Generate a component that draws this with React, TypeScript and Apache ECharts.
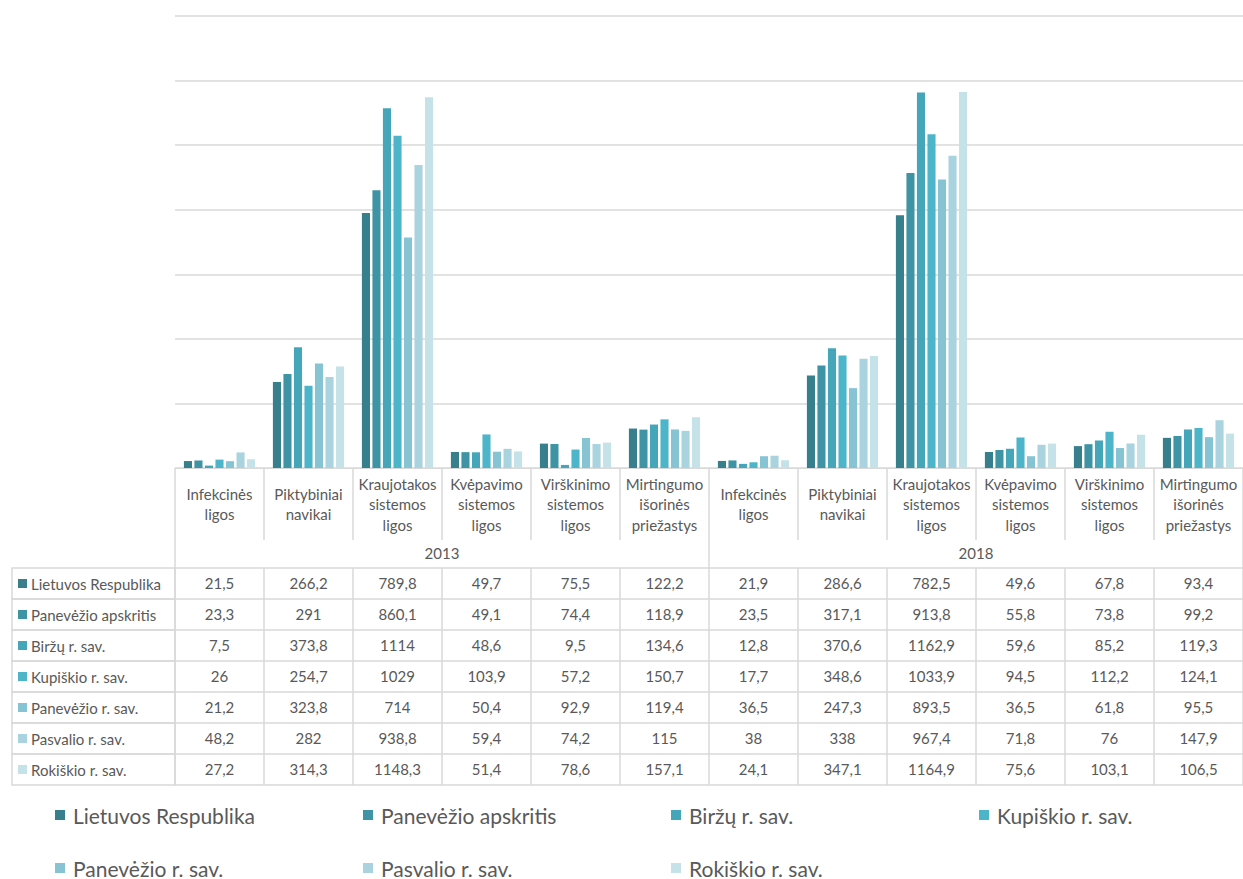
import React, { useEffect, useRef } from "react";
import * as echarts from "echarts";

const causeNames = [
  "Infekcinės\nligos",
  "Piktybiniai\nnavikai",
  "Kraujotakos\nsistemos\nligos",
  "Kvėpavimo\nsistemos\nligos",
  "Virškinimo\nsistemos\nligos",
  "Mirtingumo\nišorinės\npriežastys",
];
const years = ["2013", "2018"];
const categories = [...causeNames, ...causeNames];

const seriesNames = [
  "Lietuvos Respublika",
  "Panevėžio apskritis",
  "Biržų r. sav.",
  "Kupiškio r. sav.",
  "Panevėžio r. sav.",
  "Pasvalio r. sav.",
  "Rokiškio r. sav.",
];
const colors = ["#377f8c", "#3e94a5", "#45a6b9", "#4db5ca", "#86c3d3", "#a9d3de", "#c5e2e9"];

// 2013 (6 causes) followed by 2018 (6 causes)
const lietuvos = [21.5, 266.2, 789.8, 49.7, 75.5, 122.2, 21.9, 286.6, 782.5, 49.6, 67.8, 93.4];
const panevezioApskritis = [23.3, 291, 860.1, 49.1, 74.4, 118.9, 23.5, 317.1, 913.8, 55.8, 73.8, 99.2];
const birzu = [7.5, 373.8, 1114, 48.6, 9.5, 134.6, 12.8, 370.6, 1162.9, 59.6, 85.2, 119.3];
const kupiskio = [26, 254.7, 1029, 103.9, 57.2, 150.7, 17.7, 348.6, 1033.9, 94.5, 112.2, 124.1];
const panevezioRSav = [21.2, 323.8, 714, 50.4, 92.9, 119.4, 36.5, 247.3, 893.5, 36.5, 61.8, 95.5];
const pasvalio = [48.2, 282, 938.8, 59.4, 74.2, 115, 38, 338, 967.4, 71.8, 76, 147.9];
const rokiskio = [27.2, 314.3, 1148.3, 51.4, 78.6, 157.1, 24.1, 347.1, 1164.9, 75.6, 103.1, 106.5];

const seriesData = [lietuvos, panevezioApskritis, birzu, kupiskio, panevezioRSav, pasvalio, rokiskio];

const yMax = 1400;
const yInterval = 200;

const FONT = "Lato, 'Noto Sans', sans-serif";
const TEXT = "#595959";
const LINE = "#d9d9d9";

const fmt = (v: number) => String(v).replace(".", ",");

export default function App() {
  const ref = useRef<HTMLDivElement>(null);

  useEffect(() => {
    if (!ref.current) return;
    const chart = echarts.init(ref.current, undefined, { renderer: "svg" });

    const gridLeft = 175;
    const gridTop = 16;
    const gridHeight = 452;
    const baseY = gridTop + gridHeight; // 468
    const catRowH = 72;
    const yearRowH = 28;
    const rowH = 31;
    const tableTop = baseY + catRowH + yearRowH; // 568

    const xAxes: any[] = [
      {
        type: "category",
        data: categories,
        gridIndex: 0,
        position: "bottom",
        offset: 0,
        axisLine: { show: true, lineStyle: { color: LINE, width: 1 } },
        axisTick: { show: true, length: catRowH, interval: 0, lineStyle: { color: LINE, width: 1.5 } },
        axisLabel: {
          interval: 0,
          margin: 36,
          verticalAlign: "middle",
          color: TEXT,
          fontFamily: FONT,
          fontSize: 15,
          lineHeight: 20.5,
        },
      },
      {
        type: "category",
        data: years,
        gridIndex: 0,
        position: "bottom",
        offset: catRowH,
        axisLine: { show: false },
        axisTick: { show: true, length: yearRowH, interval: 0, lineStyle: { color: LINE, width: 1.5 } },
        axisLabel: {
          interval: 0,
          margin: 5,
          color: TEXT,
          fontFamily: FONT,
          fontSize: 15,
        },
      },
    ];

    seriesData.forEach((vals, i) => {
      xAxes.push({
        type: "category",
        data: categories,
        gridIndex: 0,
        position: "bottom",
        offset: catRowH + yearRowH + rowH * i,
        axisLine: { show: true, lineStyle: { color: LINE, width: 1.5 } },
        axisTick: { show: true, length: rowH, interval: 0, lineStyle: { color: LINE, width: 1.5 } },
        axisLabel: {
          interval: 0,
          margin: 7,
          color: TEXT,
          fontFamily: FONT,
          fontSize: 15,
          formatter: (_v: string, idx: number) => fmt(vals[idx]),
        },
      });
    });
    // bottom border of table
    xAxes.push({
      type: "category",
      data: categories,
      gridIndex: 0,
      position: "bottom",
      offset: catRowH + yearRowH + rowH * seriesData.length,
      axisLine: { show: true, lineStyle: { color: LINE, width: 1.5 } },
      axisTick: { show: false },
      axisLabel: { show: false },
    });

    const graphics: any[] = [];
    seriesNames.forEach((name, i) => {
      const y = tableTop + rowH * i;
      graphics.push({
        type: "rect",
        shape: { x: 12, y, width: gridLeft - 12, height: rowH },
        style: { fill: "none", stroke: LINE, lineWidth: 1.5 },
        silent: true,
      });
      graphics.push({
        type: "rect",
        shape: { x: 18, y: y + rowH / 2 - 4.5, width: 9, height: 9 },
        style: { fill: colors[i] },
        silent: true,
      });
      graphics.push({
        type: "text",
        x: 31,
        y: y + rowH / 2,
        style: {
          text: name,
          fill: TEXT,
          font: `15px ${FONT}`,
          verticalAlign: "middle",
          align: "left",
        },
        silent: true,
      });
    });

    const legendBase = {
      left: 55,
      width: 1185,
      padding: 0,
      itemWidth: 10,
      itemHeight: 10,
      itemGap: 50,
      icon: "rect",
      selectedMode: false,
      textStyle: {
        color: TEXT,
        fontFamily: FONT,
        fontSize: 21,
        width: 240,
        lineHeight: 22,
        padding: [0, 0, 0, 3],
        overflow: "truncate",
      },
    };

    chart.setOption({
      animation: false,
      backgroundColor: "#ffffff",
      grid: { left: gridLeft, right: 0, top: gridTop, height: gridHeight, containLabel: false },
      xAxis: xAxes,
      yAxis: {
        type: "value",
        min: 0,
        max: yMax,
        interval: yInterval,
        axisLabel: { show: false },
        axisLine: { show: false },
        axisTick: { show: false },
        splitLine: { show: true, lineStyle: { color: LINE, width: 1.5 } },
      },
      legend: [
        { ...legendBase, data: seriesNames.slice(0, 4), top: 804 },
        { ...legendBase, data: seriesNames.slice(4), top: 857 },
      ],
      graphic: graphics,
      series: seriesData.map((vals, i) => ({
        name: seriesNames[i],
        type: "bar",
        xAxisIndex: 0,
        data: vals,
        barGap: "30%",
        barCategoryGap: "20%",
        itemStyle: { color: colors[i] },
      })),
    });

    return () => chart.dispose();
  }, []);

  return (
    <div
      ref={ref}
      style={{ position: "fixed", left: 0, top: 0, width: 1243, height: 879 }}
    />
  );
}
